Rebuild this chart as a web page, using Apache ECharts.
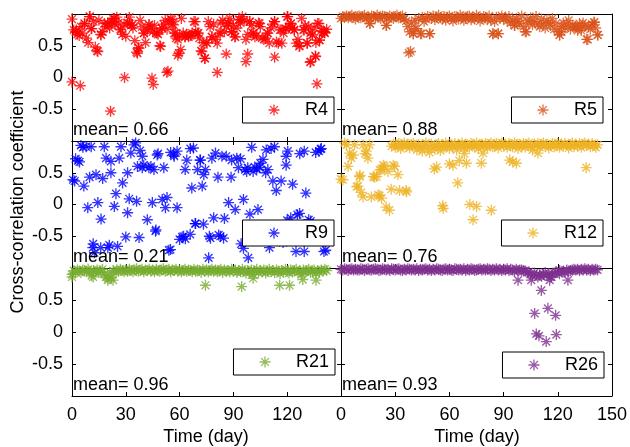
<!DOCTYPE html>
<html>
<head>
<meta charset="utf-8">
<script src="https://cdn.jsdelivr.net/npm/echarts@6/dist/echarts.min.js"></script>
<style>
  html, body { margin: 0; padding: 0; background: #fff; }
  #chart { width: 630px; height: 447px; }
</style>
</head>
<body>
<div id="chart"></div>
<script>
// ---- data ----
const names = ['R4', 'R5', 'R9', 'R12', 'R21', 'R26'];
const colors = ['#ff0000', '#d95319', '#0000ff', '#edb120', '#77ac30', '#7e2f8e'];
const means = [0.66, 0.88, 0.21, 0.76, 0.96, 0.93];
const xTicks = [0, 30, 60, 90, 120, 150];
const yTicks = [-1, -0.5, 0, 0.5, 1];

// R4: one value per day from day 0, plus extra points
const r4Daily = [
  0.92, 0.75, 0.72, 0.68, 0.66, 0.80, 0.70, 0.85, 0.62, 0.55,
  0.96, 0.77, 0.88, 0.48, 0.42, 0.90, 0.68, 0.72, 0.85, 0.80,
  0.86, 0.78, 0.88, 0.92, 0.83, 0.95, 0.86, 0.76, 0.68, 0.84,
  0.65, 0.86, 0.95, 0.82, 0.78, 0.58, 0.40, 0.47, 0.90, 0.80,
  0.70, 0.55, 0.75, 0.83, 0.78, 0.72, 0.82, 0.70, 0.68, 0.50,
  0.78, 0.84, 0.90, 0.76, 0.88, 0.92, 0.84, 0.70, 0.62, 0.60,
  0.66, 0.93, 0.70, 0.64, 0.68, 0.64, 0.66, 0.70, 0.88, 0.72,
  0.70, 0.62, 0.42, 0.55, 0.30, 0.55, 0.88, 0.80, 0.64, 0.84,
  0.60, 0.54, 0.70, 0.86, 0.90, 0.72, 0.80, 0.86, 0.93, 0.72,
  0.82, 0.64, 0.78, 0.91, 0.86, 0.96, 0.90, 0.60, 0.68, 0.88,
  0.82, 0.70, 0.64, 0.66, 0.86, 0.80, 0.62, 0.60, 0.62, 0.70,
  0.54, 0.78, 0.84, 0.88, 0.56, 0.54, 0.75, 0.54, 0.70, 0.77,
  0.96, 0.80, 0.85, 0.78, 0.75, 0.54, 0.60, 0.50, 0.93, 0.75,
  0.82, 0.54, 0.80, 0.70, 0.67, 0.78, 0.55, 0.85, 0.59, 0.74,
  0.72, 0.70, 0.76
];
const r4Extra = [
  [0, -0.07], [4.6, -0.13], [21.5, -0.53], [29.3, 0.0], [44.6, -0.01], [45.3, -0.11],
  [52.9, 0.08], [53.5, 0.10], [59, 0.35], [60.6, 0.44], [81, 0.08], [86, 0.37],
  [97, 0.25], [98, 0.37], [113, 0.32], [132.8, 0.24], [135.7, 0.34], [136.6, -0.10],
  [74.2, 0.30], [72.4, 0.41], [36.5, 0.38], [14.4, 0.41], [49.4, 0.49], [59.5, 0.38],
  [126.7, 0.49], [133.1, 0.25], [135.9, 0.33], [2.4, 0.75], [7, 0.85], [9.8, 0.96],
  [16.2, 0.67], [19.9, 0.85], [23.6, 0.93], [27.3, 0.75], [31.9, 0.85], [37.4, 0.46],
  [40.2, 0.70], [42.9, 0.83], [47.5, 0.70], [55.8, 0.91], [57.7, 0.70], [63.1, 0.64],
  [66.8, 0.67], [70.5, 0.70], [75.3, 0.54], [78, 0.64], [82.7, 0.70], [87.3, 0.85],
  [90.9, 0.64], [93.7, 0.91], [101, 0.70], [104.6, 0.85], [109.2, 0.70], [116.6, 0.75],
  [119.4, 0.77], [122.1, 0.85], [123.9, 0.75], [129.5, 0.75], [134, 0.67], [137.7, 0.85],
  [140.5, 0.72], [138, 0.59], [140.7, 0.71], [10.7, 0.77], [22.7, 0.88], [33.7, 0.83],
  [50.3, 0.77], [56.7, 0.83], [68.7, 0.88], [89.1, 0.72], [99.2, 0.88], [112.9, 0.88],
  [120.3, 0.96], [131.3, 0.54]
];

// R5
const r5Daily = [
  0.93, 0.96, 0.95, 0.97, 0.94, 0.96, 0.98, 0.95, 0.92, 0.96,
  0.97, 0.94, 0.96, 0.98, 0.93, 0.95, 0.85, 0.97, 0.96, 0.94,
  0.98, 0.95, 0.93, 0.97, 0.96, 0.82, 0.94, 0.97, 0.95, 0.93,
  0.96, 0.98, 0.94, 0.95, 0.97, 0.92, 0.89, 0.80, 0.72, 0.86,
  0.69, 0.90, 0.77, 0.93, 0.69, 0.95, 0.88, 0.92, 0.96, 0.69,
  0.93, 0.97, 0.91, 0.95, 0.98, 0.94, 0.92, 0.96, 0.90, 0.95,
  0.97, 0.93, 0.89, 0.96, 0.94, 0.92, 0.98, 0.95, 0.90, 0.93,
  0.96, 0.97, 0.91, 0.94, 0.92, 0.98, 0.95, 0.89, 0.93, 0.96,
  0.94, 0.91, 0.97, 0.90, 0.69, 0.88, 0.95, 0.69, 0.93, 0.97,
  0.92, 0.95, 0.89, 0.96, 0.86, 0.90, 0.82, 0.93, 0.88, 0.85,
  0.97, 0.80, 0.72, 0.90, 0.86, 0.94, 0.83, 0.88, 0.96, 0.84,
  0.80, 0.92, 0.85, 0.78, 0.90, 0.87, 0.82, 0.93, 0.76, 0.85,
  0.72, 0.67, 0.80, 0.86, 0.78, 0.84, 0.90, 0.76, 0.82, 0.80,
  0.80, 0.74, 0.85, 0.78, 0.86, 0.82, 0.60, 0.80, 0.76, 0.84,
  0.87, 0.78, 0.67
];
const r5Extra = [
  [37.5, 0.39], [38.5, 0.41], [16, 0.85], [25.2, 0.82], [40, 0.69], [41, 0.77],
  [44.6, 0.69], [49.2, 0.69], [84.2, 0.69], [87, 0.69], [96.2, 0.82], [102.6, 0.72],
  [121, 0.67], [122, 0.72], [130, 0.80], [133, 0.74], [136.6, 0.60], [140.3, 0.87],
  [142.2, 0.67]
];

// R9
const r9Points = [
  [0.55, 0.39], [1.5, 0.37], [3.3, 0.69], [4.2, 0.67], [6.1, 0.90], [7.9, 0.91],
  [10.7, 0.91], [6.6, 0.29], [8.8, -0.05], [9.8, 0.43], [11.6, -0.68], [12.5, -0.76],
  [11.8, -0.62], [13.4, 0.47], [14.4, 0.03], [16.2, -0.23], [17.1, 0.41], [19, 0.73],
  [18, 0.91], [20, -0.68], [20.8, -0.64], [21.7, 0.50], [21.7, 0.68], [23.6, -0.03],
  [24.5, 0.17], [25.4, -0.66], [26.3, 0.73], [27.3, 0.91], [28.2, 0.34], [30, -0.51],
  [31, -0.13], [31.9, 0.09], [31, 0.50], [32.8, 0.81], [34.6, 0.94], [35.5, 0.97],
  [36.5, 0.60], [37.4, -0.52], [39.2, 0.76], [39.2, 0.58], [42, -0.24], [42.9, 0.58],
  [44.8, 0.03], [45.7, 0.55], [46.6, -0.42], [47.5, 0.78], [51.2, 0.58], [50.3, 0.08],
  [53, 0.11], [52.1, -0.05], [54.9, -0.71], [56.7, 0.78], [58.6, 0.84], [58.6, -0.05],
  [62.2, -0.50], [63.1, 0.55], [64, 0.70], [65.9, -0.47], [66.8, 0.26], [67.7, 0.89],
  [68.7, -0.30], [73.3, -0.31], [71.4, 0.70], [71.6, 0.70], [72.6, 0.29], [73.5, 0.47],
  [74.4, 0.55], [76.2, -0.84], [77.2, -0.53], [78, 0.73], [79, -0.21], [80, 0.81],
  [81.4, 0.43], [81.8, -0.48], [82.7, -0.50], [83.6, 0.76], [84.5, -0.53], [87.3, 0.03],
  [88.7, 0.43], [89, 0.70], [91, -0.08], [91.9, 0.73], [92.8, 0.58], [94.3, -0.62],
  [95.6, 0.08], [96.5, 0.55], [97.4, 0.52], [98.3, -0.84], [99.2, -0.15], [100.2, 0.90],
  [101, 0.52], [101.9, 0.59], [103.7, -0.08], [104.6, 0.58], [106.5, 0.71], [108.3, 0.86],
  [109.2, 0.55], [110.1, -0.68], [112, 0.37], [112.9, 0.91], [113.9, 0.22], [116.6, 0.37],
  [119.4, 0.76], [120.3, 0.84], [119.4, 0.62], [123, 0.32], [122, -0.21], [125.7, -0.16],
  [124.9, -0.74], [129.5, 0.84], [130.4, 0.18], [129.5, -0.74], [133.1, -0.26], [135.9, 0.82],
  [137.7, 0.84], [138.6, 0.87], [140.5, -0.74], [117.7, -0.60], [120, -0.25], [126.9, -0.14],
  [132, -0.24], [141.5, -0.72], [108, 0.50], [2, 0.72], [5, 0.93], [38, 0.85], [40, 0.62],
  [44, 0.60], [48, 0.80], [55, 0.82], [57, 0.76], [66, 0.88], [70, 0.55], [86, 0.76],
  [94, 0.72], [98, 0.58], [103, 0.56], [105, 0.65], [111, 0.88], [127, 0.80], [139, 0.88],
  [36, 0.05], [85, -0.22], [60, -0.55], [16, -0.68], [46.8, -0.40], [54, -0.72],
  [61.4, -0.51], [63.2, -0.54], [68.9, -0.30], [76.6, -0.50], [95.6, -0.69]
];

// R12: band from day 28, plus scattered early points
const r12Start = 28;
const r12Daily = [
  0.92, 0.95, 0.90, 0.94, 0.96, 0.88, 0.93, 0.97, 0.91, 0.95,
  0.89, 0.94, 0.96, 0.92, 0.86, 0.95, 0.90, 0.84, 0.93, 0.97,
  0.88, 0.82, 0.95, 0.91, 0.87, 0.94, 0.96, 0.85, 0.92, 0.90,
  0.97, 0.93, 0.88, 0.95, 0.91, 0.96, 0.86, 0.94, 0.92, 0.97,
  0.89, 0.95, 0.93, 0.90, 0.96, 0.94, 0.91, 0.97, 0.88, 0.93,
  0.95, 0.92, 0.96, 0.90, 0.94, 0.97, 0.91, 0.93, 0.96, 0.89,
  0.94, 0.97, 0.92, 0.95, 0.90, 0.96, 0.93, 0.91, 0.97, 0.94,
  0.88, 0.95, 0.92, 0.96, 0.90, 0.94, 0.97, 0.91, 0.86, 0.95,
  0.93, 0.96, 0.90, 0.94, 0.97, 0.92, 0.95, 0.89, 0.93, 0.96,
  0.91, 0.94, 0.97, 0.90, 0.95, 0.92, 0.96, 0.93, 0.89, 0.94,
  0.97, 0.91, 0.95, 0.92, 0.96, 0.90, 0.94, 0.97, 0.93, 0.95,
  0.91, 0.96, 0.93, 0.90, 0.94
];
const r12Extra = [
  [0, 0.40], [1.1, 0.39], [2, 0.97], [3.1, 0.94], [3.9, 0.60], [4.8, 0.81], [5.7, 0.73],
  [6.8, 0.78], [7.5, 0.94], [8.7, 0.28], [9.4, 0.29], [10.3, 0.44], [10.5, 0.46],
  [11.2, 0.19], [12.2, 0.12], [12.3, 0.94], [13.3, 0.80], [14, 0.84], [14.9, 0.73],
  [15.8, 0.94], [16.8, 0.12], [17.9, 0.44], [18.6, 0.43], [19.7, 0.44], [20.6, 0.15],
  [21.4, 0.14], [21.5, 0.54], [22.3, 0.55], [22.4, 0.10], [23.4, 0.62], [24.1, 0.60],
  [25, -0.04], [26, 0.52], [26.8, -0.09], [27.8, 0.24], [28.9, 0.62], [29.7, 0.60],
  [31.5, 0.47], [32.4, 0.22], [36, 0.22], [36.3, 0.20], [51.7, 0.56], [52.9, 0.59],
  [56.3, -0.02], [56.6, -0.06], [60, 0.64], [62, 0.62], [64.6, 0.34], [65.5, 0.69],
  [68.3, 0.80], [69.4, 0.65], [71.3, 0.0], [73.1, -0.24], [75, -0.03], [77.7, 0.65],
  [78.6, 0.81], [83.2, -0.09], [93.4, 0.70], [95, 0.67], [97.1, 0.65], [109, 0.81],
  [135.7, 0.58]
];

// R21
const r21Daily = [
  0.90, 0.96, 0.94, 0.97, 0.95, 0.93, 0.97, 0.96, 0.94, 0.98,
  0.95, 0.88, 0.96, 0.94, 0.97, 0.93, 0.95, 0.98, 0.90, 0.86,
  0.84, 0.93, 0.85, 0.96, 0.94, 0.97, 0.95, 0.98, 0.96, 0.94,
  0.97, 0.95, 0.98, 0.96, 0.94, 0.97, 0.99, 0.95, 0.96, 0.98,
  0.94, 0.97, 0.96, 0.98, 0.95, 0.97, 0.94, 0.98, 0.96, 0.95,
  0.97, 0.99, 0.95, 0.96, 0.98, 0.94, 0.97, 0.96, 0.98, 0.95,
  0.97, 0.94, 0.96, 0.98, 0.95, 0.97, 0.96, 0.94, 0.98, 0.95,
  0.97, 0.96, 0.93, 0.98, 0.95, 0.97, 0.94, 0.96, 0.98, 0.95,
  0.97, 0.94, 0.96, 0.98, 0.93, 0.97, 0.95, 0.96, 0.94, 0.98,
  0.95, 0.97, 0.93, 0.96, 0.94, 0.98, 0.95, 0.92, 0.96, 0.94,
  0.97, 0.90, 0.95, 0.98, 0.93, 0.96, 0.94, 0.97, 0.92, 0.95,
  0.98, 0.94, 0.96, 0.93, 0.97, 0.95, 0.91, 0.96, 0.94, 0.98,
  0.95, 0.92, 0.97, 0.94, 0.96, 0.98, 0.93, 0.95, 0.90, 0.97,
  0.94, 0.96, 0.98, 0.93, 0.95, 0.97, 0.92, 0.96, 0.94, 0.97,
  0.95, 0.98, 0.96
];
const r21Extra = [
  [0, 0.86], [11.8, 0.86], [20, 0.81], [22.9, 0.81], [74.4, 0.73], [94.6, 0.71],
  [101, 0.84], [115.8, 0.73], [121.3, 0.73], [128.7, 0.82], [136.1, 0.81]
];

// R26
const r26Daily = [
  0.98, 0.97, 0.99, 0.98, 0.96, 0.98, 0.99, 0.97, 0.98, 0.97,
  0.97, 0.99, 0.98, 0.96, 0.98, 0.99, 0.97, 0.97, 0.98, 0.99,
  0.98, 0.96, 0.97, 0.99, 0.98, 0.97, 0.98, 0.96, 0.99, 0.98,
  0.97, 0.98, 0.99, 0.97, 0.96, 0.98, 0.97, 0.99, 0.98, 0.97,
  0.98, 0.97, 0.99, 0.96, 0.98, 0.97, 0.98, 0.99, 0.97, 0.98,
  0.96, 0.98, 0.97, 0.99, 0.98, 0.97, 0.96, 0.98, 0.99, 0.97,
  0.98, 0.97, 0.96, 0.99, 0.98, 0.97, 0.98, 0.97, 0.99, 0.96,
  0.98, 0.97, 0.99, 0.98, 0.96, 0.97, 0.98, 0.99, 0.97, 0.98,
  0.97, 0.99, 0.98, 0.96, 0.98, 0.97, 0.99, 0.97, 0.98, 0.96,
  0.98, 0.97, 0.99, 0.96, 0.98, 0.97, 0.95, 0.98, 0.96, 0.97,
  0.97, 0.96, 0.95, 0.93, 0.94, 0.90, 0.88, 0.92, 0.89, 0.86,
  0.89, 0.87, 0.90, 0.93, 0.88, 0.91, 0.86, 0.90, 0.92, 0.94,
  0.93, 0.96, 0.94, 0.95, 0.93, 0.97, 0.95, 0.96, 0.97, 0.98,
  0.97, 0.98, 0.96, 0.98, 0.97, 0.99, 0.97, 0.98, 0.96, 0.98,
  0.97, 0.98, 0.97
];
const r26Extra = [
  [98, 0.81], [105.3, 0.81], [110, 0.89], [110.9, 0.65], [107.2, 0.29], [114.5, 0.37],
  [118.8, 0.26], [108.1, -0.03], [109.6, -0.06], [113.6, -0.15], [119.2, -0.04],
  [115.5, 0.81], [116.5, 0.86], [125.6, 0.81], [120.9, 0.91]
];

// ---- helpers ----
const daily = (vals, start) => vals.map((v, i) => [start + i, v]);

const seriesData = [
  daily(r4Daily, 0).concat(r4Extra),
  daily(r5Daily, 0).concat(r5Extra),
  r9Points,
  daily(r12Daily, r12Start).concat(r12Extra),
  daily(r21Daily, 0).concat(r21Extra),
  daily(r26Daily, 0).concat(r26Extra)
];

// matlab style asterisk marker
const star = 'path://M-100,-12L100,-12L100,12L-100,12Z' +
  'M-12,-100L12,-100L12,100L-12,100Z' +
  'M-62.2,-79.2L79.2,62.2L62.2,79.2L-79.2,-62.2Z' +
  'M-79.2,62.2L62.2,-79.2L79.2,-62.2L-62.2,79.2Z';

const FONT = 'Liberation Sans, Arial, sans-serif';

// panel layout: 3 rows x 2 cols
const colLeft = [72, 341];
const colWidth = [269, 271];
const rowTop = [14, 141, 268];
const rowHeight = [127, 127, 128];
const legendPos = [
  { right: 296, top: 97 }, { right: 27, top: 97 },
  { right: 296, top: 220 }, { right: 27, top: 220 },
  { right: 295, top: 349 }, { right: 26, top: 352 }
];

let grid = [], xAxis = [], yAxis = [], series = [], legend = [], graphic = [];

names.forEach((name, i) => {
  const col = i % 2, row = Math.floor(i / 2);
  grid.push({
    left: colLeft[col], top: rowTop[row], width: colWidth[col], height: rowHeight[row],
    show: false
  });
  const tick = { show: true, inside: true, length: 4, lineStyle: { color: '#000', width: 1 } };
  const line = { show: true, onZero: false, lineStyle: { color: '#000', width: 1 } };
  const isBottom = row === 2;
  xAxis.push({
    gridIndex: i, type: 'value', position: 'bottom',
    min: xTicks[0], max: xTicks[xTicks.length - 1], interval: 30,
    axisLine: line, axisTick: tick, splitLine: { show: false },
    axisLabel: {
      show: isBottom, color: '#000', fontSize: 18, fontFamily: FONT, margin: 10,
      showMaxLabel: col === 1
    }
  });
  xAxis.push({
    gridIndex: i, type: 'value', position: 'top',
    min: xTicks[0], max: xTicks[xTicks.length - 1], interval: 30,
    axisLine: line, axisTick: tick, splitLine: { show: false },
    axisLabel: { show: false }
  });
  yAxis.push({
    gridIndex: i, type: 'value', position: 'left',
    min: yTicks[0], max: yTicks[yTicks.length - 1], interval: 0.5,
    axisLine: line, axisTick: tick, splitLine: { show: false },
    axisLabel: {
      show: col === 0, color: '#000', fontSize: 18, fontFamily: FONT, margin: 9,
      showMinLabel: false, showMaxLabel: false
    }
  });
  yAxis.push({
    gridIndex: i, type: 'value', position: 'right',
    min: yTicks[0], max: yTicks[yTicks.length - 1], interval: 0.5,
    axisLine: line, axisTick: tick, splitLine: { show: false },
    axisLabel: { show: false }
  });
  series.push({
    name: name, type: 'scatter',
    xAxisIndex: i * 2, yAxisIndex: i * 2,
    symbol: star, symbolSize: 11, clip: false,
    itemStyle: { color: colors[i] },
    emphasis: { disabled: true },
    animation: false,
    data: seriesData[i]
  });
  legend.push(Object.assign({
    data: [{ name: name, icon: star }],
    orient: 'horizontal',
    backgroundColor: '#fff', borderColor: '#000', borderWidth: 1, borderRadius: 0,
    padding: [3, 6, 3, 26], itemWidth: 52, itemHeight: 11, itemGap: 0,
    selectedMode: false,
    textStyle: { color: '#000', fontSize: 18, fontFamily: FONT, lineHeight: 20 }
  }, legendPos[i]));
  graphic.push({
    type: 'text', left: colLeft[col] + 1, top: rowTop[row] + rowHeight[row] - 20, z: 10,
    style: { text: 'mean= ' + means[i].toFixed(2), fill: '#000', font: '18px ' + FONT }
  });
});

graphic.push({
  type: 'text', rotation: Math.PI / 2, x: 18, y: 202, z: 10,
  style: {
    text: 'Cross-correlation coefficient', fill: '#000', font: '18px ' + FONT,
    align: 'center', verticalAlign: 'middle'
  }
});
graphic.push({
  type: 'text', x: 206, y: 437, z: 10,
  style: { text: 'Time (day)', fill: '#000', font: '18px ' + FONT, align: 'center', verticalAlign: 'middle' }
});
graphic.push({
  type: 'text', x: 477, y: 437, z: 10,
  style: { text: 'Time (day)', fill: '#000', font: '18px ' + FONT, align: 'center', verticalAlign: 'middle' }
});

const chart = echarts.init(document.getElementById('chart'));
chart.setOption({
  backgroundColor: '#fff',
  animation: false,
  grid: grid,
  xAxis: xAxis,
  yAxis: yAxis,
  legend: legend,
  graphic: graphic,
  series: series
});
</script>
</body>
</html>
